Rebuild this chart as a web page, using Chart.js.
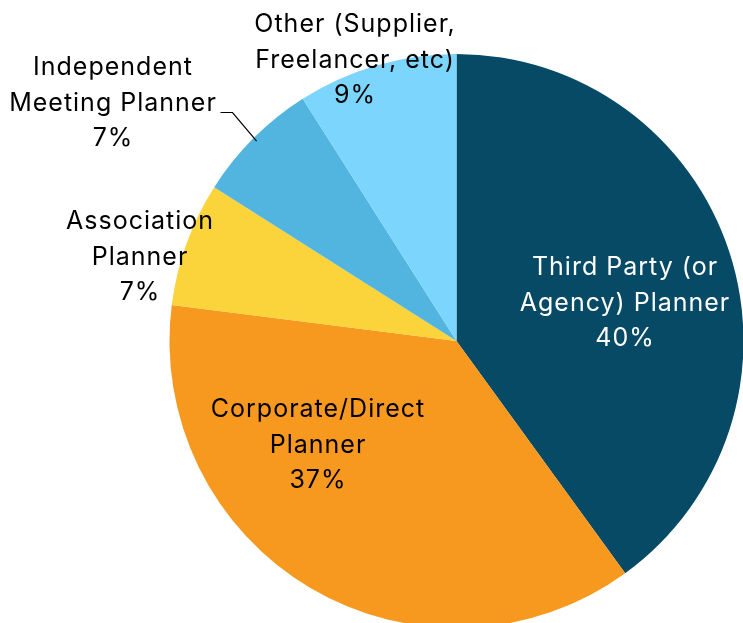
<!DOCTYPE html>
<html>
<head>
<meta charset="utf-8">
<script src="https://cdn.jsdelivr.net/npm/chart.js@4"></script>
<style>
  html, body { margin: 0; padding: 0; background: #ffffff; overflow: hidden; }
  #wrap { width: 743px; height: 623px; overflow: hidden; position: relative; }
  #box { width: 743px; height: 640px; position: absolute; left: 0; top: 0; }
</style>
</head>
<body>
<div id="wrap"><div id="box"><canvas id="chart"></canvas></div></div>
<script>
// Planner types and their share of respondents (%)
const categories = [
  ['Third Party (or', 'Agency) Planner'],
  ['Corporate/Direct', 'Planner'],
  ['Association', 'Planner'],
  ['Independent', 'Meeting Planner'],
  ['Other (Supplier,', 'Freelancer, etc)']
];
const shares = [40, 37, 7, 7, 9];
const sliceColors = ['#064A66', '#F7991F', '#FBD33B', '#52B5E0', '#7CD5FC'];
const labelColors = ['#ffffff', '#000000', '#000000', '#000000', '#000000'];

// Label block centres (middle line), relative to the pie centre
const labelOffsets = [[168, -38], [-139, 104], [-317, -84], [-344, -238], [-102, -281]];

const labelPlugin = {
  id: 'sliceLabels',
  afterDatasetsDraw(chart) {
    const ctx = chart.ctx;
    const meta = chart.getDatasetMeta(0);
    const cx = meta.data[0].x, cy = meta.data[0].y, r = meta.data[0].outerRadius;
    ctx.save();
    ctx.font = '25px Inter';
    if ('letterSpacing' in ctx) ctx.letterSpacing = '1px';
    ctx.textAlign = 'center';
    ctx.textBaseline = 'middle';
    const lh = 35.5;
    shares.forEach((v, i) => {
      const lines = categories[i].concat([v + '%']);
      const x = cx + labelOffsets[i][0];
      const y = cy + labelOffsets[i][1];
      ctx.fillStyle = labelColors[i];
      lines.forEach((t, k) => ctx.fillText(t, x + 0.5, y + (k - 1) * lh));
    });
    // leader line for the Independent Meeting Planner label
    const arc = meta.data[3];
    const mid = (arc.startAngle + arc.endAngle) / 2;
    const ex = cx + Math.cos(mid) * r * 0.985, ey = cy + Math.sin(mid) * r * 0.985;
    const lx = cx + labelOffsets[3][0];
    const ly = cy + labelOffsets[3][1];
    ctx.strokeStyle = '#000000';
    ctx.lineWidth = 1.2;
    ctx.beginPath();
    ctx.moveTo(lx + 108, ly + 9.5);
    ctx.lineTo(lx + 120, ly + 9.5);
    ctx.lineTo(ex, ey);
    ctx.stroke();
    ctx.restore();
  }
};

new Chart(document.getElementById('chart'), {
  type: 'pie',
  data: {
    labels: categories,
    datasets: [{
      data: shares,
      backgroundColor: sliceColors,
      borderWidth: 0
    }]
  },
  options: {
    responsive: true,
    maintainAspectRatio: false,
    animation: false,
    radius: 287,
    layout: { padding: { left: 170, right: 0, top: 54, bottom: 12 } },
    plugins: { legend: { display: false }, tooltip: { enabled: false } }
  },
  plugins: [labelPlugin]
});
</script>
</body>
</html>
